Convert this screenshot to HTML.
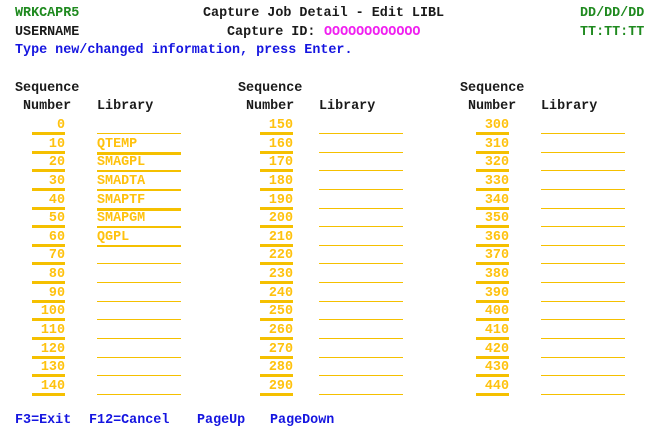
<!DOCTYPE html>
<html><head><meta charset="utf-8">
<style>
body{margin:0;width:665px;height:438px;background:#fff;position:relative;overflow:hidden;font-family:"Liberation Mono","DejaVu Sans Mono",monospace;font-weight:bold;font-size:13.4px}
.t{position:absolute;line-height:14px;white-space:pre;height:14px}
.k{color:#1a1a1a}.g{color:#1f8a1f}.b{color:#1515e0}.m{color:#f020f0}.y{color:#ffc20e}
.u{position:absolute;background:#f5c000}
</style></head><body>
<div class="t g" style="left:15px;top:7px">WRKCAPR5</div>
<div class="t k" style="left:203px;top:7px">Capture Job Detail - Edit LIBL</div>
<div class="t g" style="left:580px;top:7px">DD/DD/DD</div>
<div class="t k" style="left:15px;top:26px">USERNAME</div>
<div class="t k" style="left:227px;top:26px">Capture ID:</div>
<div class="t m" style="left:324px;top:26px">OOOOOOOOOOOO</div>
<div class="t g" style="left:580px;top:26px">TT:TT:TT</div>
<div class="t b" style="left:15px;top:44px">Type new/changed information, press Enter.</div>
<div class="t b" style="left:15px;top:414px">F3=Exit</div>
<div class="t b" style="left:89px;top:414px">F12=Cancel</div>
<div class="t b" style="left:197px;top:414px">PageUp</div>
<div class="t b" style="left:270px;top:414px">PageDown</div>
<div id="grid"></div>
<script>
const cols=[{nx:32,lx:97,seq:15},{nx:260,lx:319,seq:238},{nx:476,lx:541,seq:460}];
const libs={10:"QTEMP",20:"SMAGPL",30:"SMADTA",40:"SMAPTF",50:"SMAPGM",60:"QGPL"};
const thick={10:3,40:3};
const g=document.getElementById('grid');
function add(cls,style,text,name,inter){const d=document.createElement('div');d.className=cls;d.style.cssText=style;if(text!==null)d.textContent=text;


g.appendChild(d);}
cols.forEach((c,ci)=>{
 add('t k',`left:${c.seq}px;top:82px`,'Sequence','sequence-header','false');
 add('t k',`left:${c.seq+8}px;top:100px`,'Number','number-header','false');
 add('t k',`left:${c.lx}px;top:100px`,'Library','library-header','false');
 for(let i=0;i<15;i++){
  const seq=(ci*15+i)*10;const cy=126+i*18.64;
  add('t y',`left:${c.nx}px;width:33px;text-align:right;top:${cy-7}px`,String(seq),'sequence-number-field','true');
  add('u',`left:${c.nx}px;width:33px;top:${cy+6}px;height:3px`,null,'sequence-underline','false');
  const lib=libs[seq]||'';
  if(lib)add('t y',`left:${c.lx}px;top:${cy-7}px`,lib,'library-field','true');
  const h=lib?(thick[seq]||2):1;
  add('u',`left:${c.lx}px;width:84px;top:${cy+7}px;height:${h}px`,null,'library-underline','true');
 }
});
</script>
</body></html>
